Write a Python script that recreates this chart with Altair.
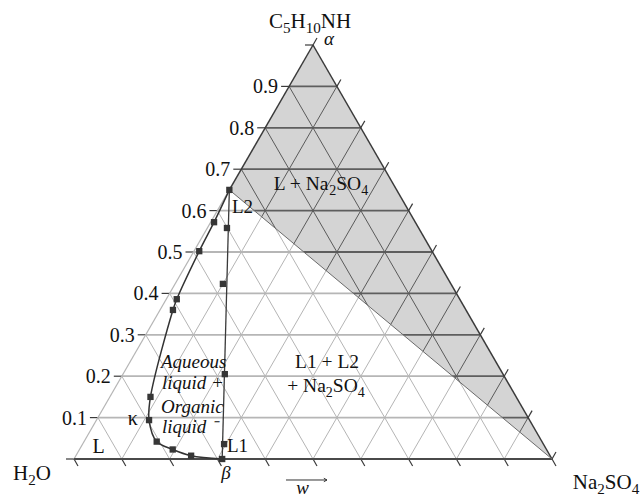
import altair as alt
import pandas as pd

# Compositions are mass fractions: (Na2SO4, piperidine); water is the remainder.
tick_values = [0.1, 0.2, 0.3, 0.4, 0.5, 0.6, 0.7, 0.8, 0.9]
tick_labels = ["0.1", "0.2", "0.3", "0.4", "0.5", "0.6", "0.7", "0.8", "0.9"]

# Binodal curve, from L2 on the water-piperidine side down through kappa to beta
binodal_salt = [0.00, 0.007, 0.011, 0.022, 0.027, 0.085, 0.110, 0.152, 0.195, 0.241, 0.31]
binodal_pip = [0.65, 0.572, 0.502, 0.386, 0.360, 0.150, 0.094, 0.042, 0.023, 0.008, 0.0]

# Measured points on the tie line L2 - L1 - beta
tie_salt = [0.041, 0.100, 0.213, 0.296]
tie_pip = [0.558, 0.423, 0.205, 0.036]

L2 = (0.0, 0.65)
BETA = (0.31, 0.0)

# Formula labels: pieces flagged 1 are subscripts
formula_parts = [
    [("C", 0), ("5", 1), ("H", 0), ("10", 1), ("NH", 0)],
    [("H", 0), ("2", 1), ("O", 0)],
    [("Na", 0), ("2", 1), ("SO", 0), ("4", 1)],
    [("L + Na", 0), ("2", 1), ("SO", 0), ("4", 1)],
    [("L1 + L2", 0)],
    [("+ Na", 0), ("2", 1), ("SO", 0), ("4", 1)],
]
formula_x = [0.4937, -0.0879, 1.113, 0.5167, 0.5293, 0.5272]
formula_p = [1.041, -0.0507, -0.0725, 0.6498, 0.2198, 0.1618]
formula_size = [21, 21, 21, 19.5, 19.5, 19.5]

W, H = 478, 414
TICK = 8 / W

# Times-compatible advance widths (em) for the glyphs used in the formulas
ADV = {" ": 0.25, "+": 0.564, "C": 0.667, "H": 0.722, "N": 0.722, "O": 0.722,
       "S": 0.556, "L": 0.611, "a": 0.444}


def adv(s):
    return sum(ADV.get(c, 0.5) for c in s)


def xy(s, p):
    """Ternary (salt, piperidine) -> plot coordinates of the equilateral triangle."""
    return s + p / 2, p


def segs(pairs, prefix):
    rows = []
    for i, (a, b) in enumerate(pairs):
        rows.append({"seg": f"{prefix}{i}", "o": 0, "X": a[0], "P": a[1]})
        rows.append({"seg": f"{prefix}{i}", "o": 1, "X": b[0], "P": b[1]})
    return pd.DataFrame(rows)


xs = alt.Scale(domain=[0, 1], nice=False, zero=False)
ys = alt.Scale(domain=[0, 1], nice=False, zero=False)
X_ = alt.X("X:Q", scale=xs, axis=None)
Y_ = alt.Y("P:Q", scale=ys, axis=None)


def lines(df, color, width, **kw):
    return alt.Chart(df).mark_line(color=color, strokeWidth=width, clip=False, **kw).encode(
        x=X_, y=Y_, detail="seg:N", order="o:Q",
    )


# grid families
horiz = [(xy(0, v), xy(1 - v, v)) for v in tick_values]
salt_lines = [(xy(v, 0), xy(v, 1 - v)) for v in tick_values]
water_lines = [(xy(1 - v, 0), xy(0, 1 - v)) for v in tick_values]

# tick extensions past the edges
ticks = []
for v in [k / 10 for k in range(11)]:
    x0, p0 = xy(0, v)
    ticks.append(((x0, p0), (x0 - TICK, p0)))
    x1, p1 = xy(v, 1 - v)
    ticks.append(((x1, p1), (x1 + TICK / 2, p1 + TICK)))
    x2, p2 = xy(1 - v, 0)
    ticks.append(((x2, p2), (x2 + TICK / 2, -TICK)))

L2xy = xy(*L2)
APEX = xy(0, 1)
SALT = xy(1, 0)
WATER = xy(0, 0)
BETAxy = xy(*BETA)


def on_boundary(x):
    # piperidine fraction on the line L2 - Na2SO4 corner at plot x
    return L2xy[1] * (1 - (x - L2xy[0]) / (1 - L2xy[0]))


shade = pd.DataFrame({
    "X": [L2xy[0], APEX[0], SALT[0]],
    "P": [L2xy[1], APEX[1], SALT[1]],
    "P2": [L2xy[1], on_boundary(APEX[0]), 0.0],
})
lower = pd.DataFrame({
    "X": [WATER[0], L2xy[0], SALT[0]],
    "P": [0.0, L2xy[1], 0.0],
    "P2": [0.0, 0.0, 0.0],
})


def area(df, color, opacity):
    return alt.Chart(df).mark_area(color=color, opacity=opacity, clip=False).encode(
        x=X_, y=Y_, y2="P2:Q",
    )


grey_region = area(shade, "#d4d4d4", 1)
white_veil = area(lower, "#ffffff", 0.55)

grid_h = lines(segs(horiz, "h"), "#5e5e5e", 1.8)
grid_d = lines(segs(salt_lines + water_lines, "d"), "#5a5a5a", 1.0)
tick_marks = lines(segs(ticks, "t"), "#3a3a3a", 1.2)

edge_light = lines(segs([(WATER, L2xy)], "el"), "#b5b5b5", 1.2)
edges_dark = lines(segs([(L2xy, APEX), (APEX, SALT)], "ed"), "#3a3a3a", 1.5)
base = lines(segs([(WATER, SALT)], "b"), "#4a4a4a", 1.8)
boundary = lines(segs([(L2xy, SALT)], "bd"), "#6a6a6a", 1.0)
tie_line = lines(segs([(L2xy, BETAxy)], "tl"), "#3a3a3a", 1.3)

curve_df = pd.DataFrame({
    "seg": "curve",
    "o": range(len(binodal_salt)),
    "X": [s + p / 2 for s, p in zip(binodal_salt, binodal_pip)],
    "P": binodal_pip,
})
curve = lines(curve_df, "#333333", 1.5, interpolate="catmull-rom")

pts = pd.DataFrame({
    "X": [s + p / 2 for s, p in zip(binodal_salt + tie_salt, binodal_pip + tie_pip)],
    "P": binodal_pip + tie_pip,
})
markers = alt.Chart(pts).mark_square(size=40, color="#363636", opacity=1, clip=False).encode(x=X_, y=Y_)

# left axis labels
tick_df = pd.DataFrame({"X": [v / 2 for v in tick_values], "P": tick_values, "t": tick_labels})
tick_text = alt.Chart(tick_df).mark_text(
    align="right", baseline="middle", dx=-11, dy=1, font="Liberation Serif", fontSize=20, color="#111"
).encode(x=X_, y=Y_, text="t:N")

# chemical formulas composed piecewise so subscripts sit lowered at a smaller size
rows = []
for parts, xc, pb, size in zip(formula_parts, formula_x, formula_p, formula_size):
    sub = size * 0.72
    widths = [adv(t) * (sub if is_sub else size) for t, is_sub in parts]
    cur = xc - sum(widths) / 2 / W
    for (t, is_sub), w in zip(parts, widths):
        rows.append({"X": cur, "P": pb - (5 / H if is_sub else 0), "t": t, "sz": sub if is_sub else size})
        cur += w / W
formula_text = alt.Chart(pd.DataFrame(rows)).mark_text(
    align="left", baseline="alphabetic", font="Liberation Serif", color="#111"
).encode(x=X_, y=Y_, text="t:N", size=alt.Size("sz:Q", scale=None, legend=None))


def texts(labels, xv, pv, align, style="normal", size=19):
    df = pd.DataFrame({"X": xv, "P": pv, "t": labels})
    return alt.Chart(df).mark_text(
        align=align, baseline="alphabetic", font="Liberation Serif", fontSize=size,
        fontStyle=style, color="#111"
    ).encode(x=X_, y=Y_, text="t:N")


plain_center = texts(["κ", "L"], [0.123, 0.0515], [0.082, 0.0145], "center", size=20)
point_labels = texts(["L2", "L1"], [0.3305, 0.32], [0.594, 0.017], "left", size=19)
italic_left = texts(
    ["α", "Aqueous", "liquid +", "Organic", "liquid ⁻"],
    [0.523, 0.182, 0.184, 0.182, 0.184],
    [1.0, 0.220, 0.169, 0.112, 0.0636],
    "left", style="italic", size=19,
)
italic_center = texts(["β", "w"], [0.318, 0.478], [-0.048, -0.0845], "center", style="italic", size=19)

# composition arrow under the base
arrow_df = pd.DataFrame({"seg": "a", "o": [0, 1], "X": [0.4435, 0.5293], "P": [-0.0507, -0.0507]})
arrow_line = lines(arrow_df, "#333333", 1.0)
arrow_head = alt.Chart(arrow_df.iloc[[1]]).mark_point(
    shape="M-1,-0.55L0,0L-1,0.55", size=40, color="#333333", filled=False, strokeWidth=1, opacity=1,
    clip=False
).encode(x=X_, y=Y_)

chart = alt.layer(
    grey_region, grid_h, grid_d, tick_marks, white_veil,
    edge_light, edges_dark, base, boundary, tie_line, curve, markers,
    tick_text, formula_text, plain_center, point_labels, italic_left, italic_center,
    arrow_line, arrow_head,
).properties(
    width=W, height=H,
    autosize=alt.AutoSizeParams(type="none"),
    padding={"left": 74, "top": 45, "right": 643 - 74 - W, "bottom": 496 - 45 - H},
    background="white",
).configure_view(stroke=None)

chart.save("out.html", embed_options={"renderer": "svg", "actions": False})
